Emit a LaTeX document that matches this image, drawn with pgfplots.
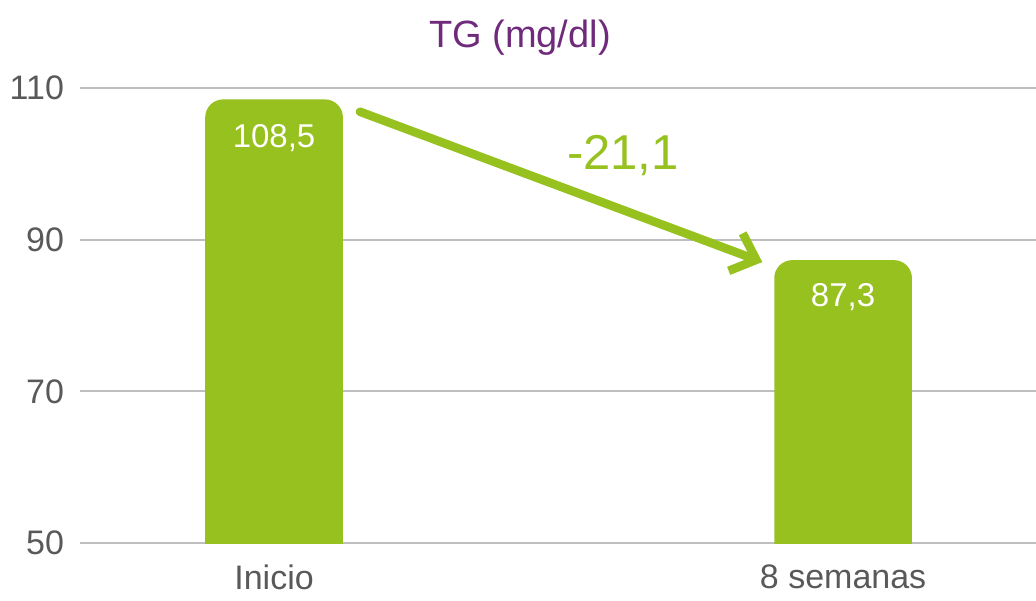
\documentclass[border=0pt]{standalone}
\usepackage{fontspec}
\setmainfont{Liberation Sans}
\usepackage{pgfplots}
\pgfplotsset{compat=1.18}
\usetikzlibrary{arrows.meta}
\definecolor{barg}{HTML}{96C11F}
\definecolor{tgpurple}{HTML}{702A7C}
\definecolor{tickgray}{HTML}{595959}
\definecolor{gridgray}{HTML}{BFBFBF}
\begin{document}
\begin{tikzpicture}
\path[use as bounding box] (0,0) rectangle (518pt,300pt);
\begin{axis}[
 anchor=south west, at={(40pt,28.5pt)},
 scale only axis, width=478pt, height=227.5pt,
 xmin=-0.341, xmax=1.339, ymin=50, ymax=110,
 ytick={50,70,90,110}, xtick={0,1}, xticklabels={Inicio,8 semanas},
 axis line style={draw=none}, major tick length=0pt,
 ymajorgrids, grid style={gridgray, line width=1pt},
 /pgf/number format/assume math mode=true,
 ticklabel style={font=\fontsize{17}{20}\selectfont, text=tickgray},
 yticklabel style={xshift=-4.5pt},
 xticklabel style={yshift=-7.5pt},
 clip=true,
]
\addplot[fill=barg, draw=none, rounded corners=9pt] coordinates {(-0.121,40) (-0.121,108.5) (0.121,108.5) (0.121,40)} -- cycle;
\addplot[fill=barg, draw=none, rounded corners=9pt] coordinates {(0.879,40) (0.879,87.3) (1.121,87.3) (1.121,40)} -- cycle;
\node[anchor=base, text=white, font=\fontsize{16.5}{19}\selectfont] at (axis cs:0,108.5) [yshift=-24pt] {108,5};
\node[anchor=base, text=white, font=\fontsize{16.5}{19}\selectfont] at (axis cs:1,87.3) [yshift=-23pt] {87,3};
\draw[barg, line width=4.3pt, line cap=round, -{Straight Barb[length=11pt, width=20pt]}] (axis cs:0.151,106.87) -- (axis cs:0.858,87.05);
\end{axis}
\node[anchor=base, text=tgpurple, font=\fontsize{19}{23}\selectfont] at (260pt,276pt) {TG (mg/dl)};
\node[anchor=base, text=barg, font=\fontsize{24.5}{29}\selectfont] at (311.5pt,215pt) {-21,1};
\end{tikzpicture}
\end{document}
